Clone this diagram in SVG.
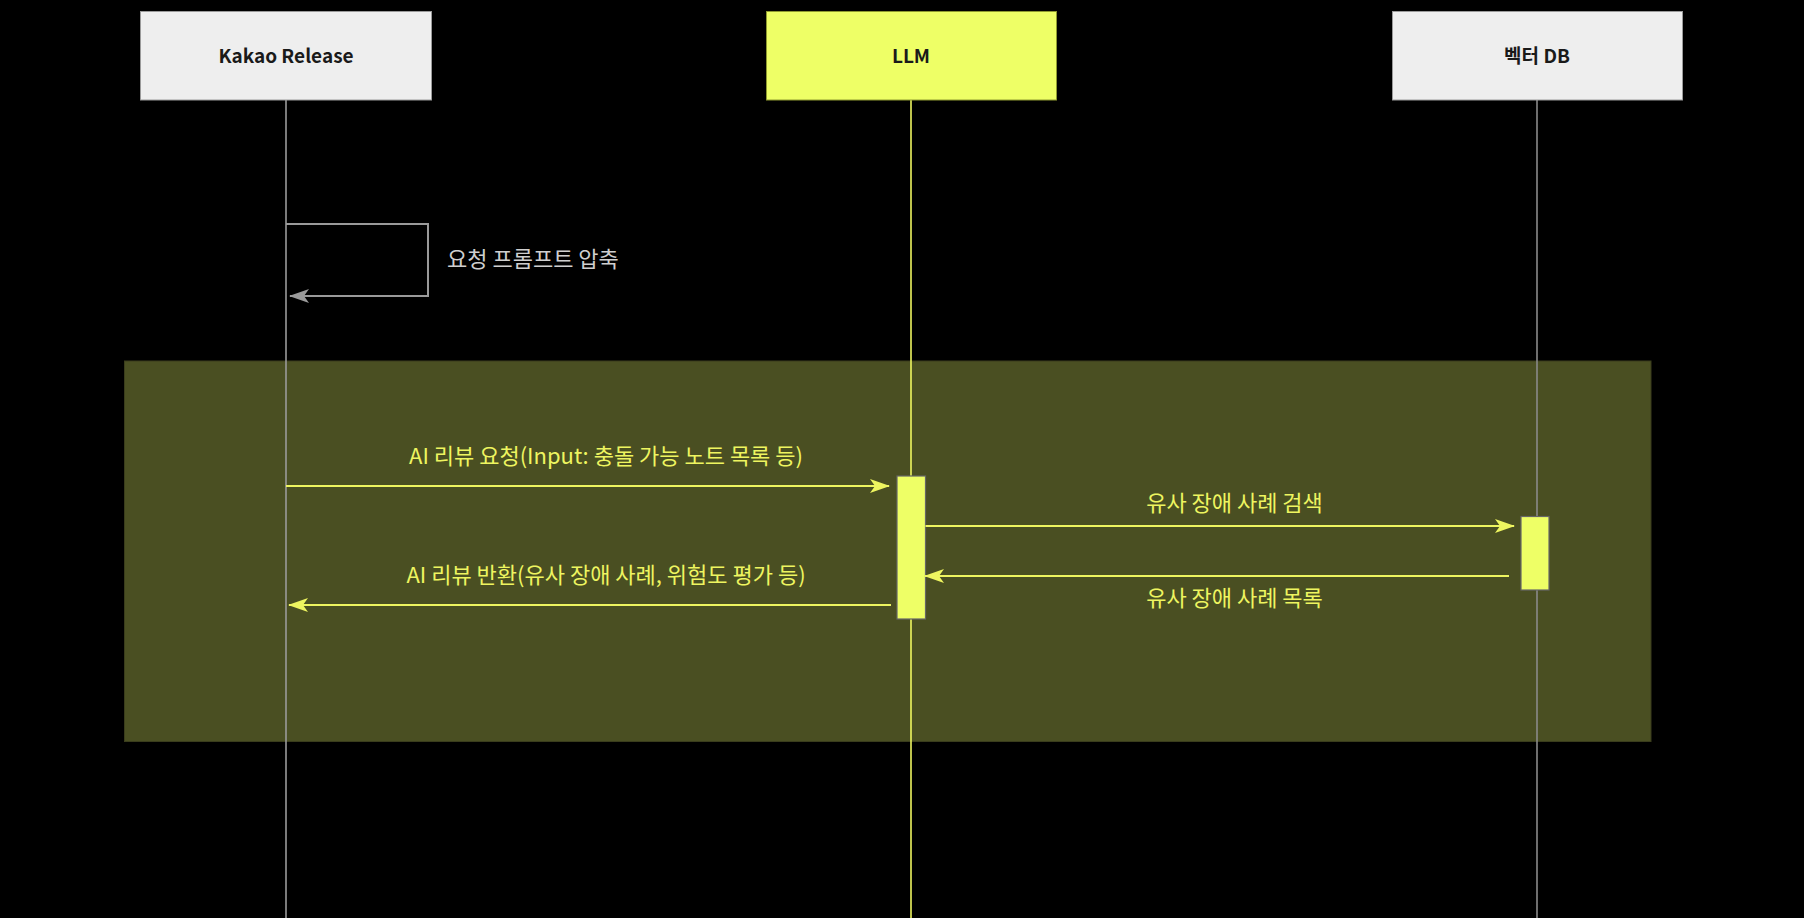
<svg xmlns="http://www.w3.org/2000/svg" width="1804" height="918" viewBox="0 0 1804 918">
<style>
text{font-family:"Noto Sans CJK KR","Noto Sans",sans-serif}
.hdr{font-size:19px;font-weight:700;fill:#1a1a1a;text-anchor:middle}
.lbl{font-size:22px;fill:#eef560;text-anchor:middle}
.self{font-size:22px;fill:#cfcfcf}
.msg{stroke:#eef560;stroke-width:2;fill:none}
.life{stroke-width:1.6;fill:none}
.act{fill:#eeff66;stroke:#666;stroke-width:1.2}
</style>
<defs>
<marker id="ay" viewBox="0 0 20 14" refX="19" refY="7" markerWidth="20" markerHeight="14" markerUnits="userSpaceOnUse" orient="auto">
<path d="M0,0 L20,7 L0,14 L5,7 z" fill="#eef560"/>
</marker>
<marker id="ag" viewBox="0 0 20 14" refX="19" refY="7" markerWidth="20" markerHeight="14" markerUnits="userSpaceOnUse" orient="auto">
<path d="M0,0 L20,7 L0,14 L5,7 z" fill="#9a9a9a"/>
</marker>
</defs>
<rect width="1804" height="918" fill="#000"/>
<rect id="group" x="124.5" y="361" width="1526.5" height="380.5" fill="#4a4f22" stroke="#3a3d1c" stroke-width="1"/>
<g id="lifelines">
<line class="life" x1="286" y1="100" x2="286" y2="918" stroke="#9a9a9a"/>
<line class="life" x1="911" y1="100" x2="911" y2="918" stroke="#eef560"/>
<line class="life" x1="1537" y1="100" x2="1537" y2="918" stroke="#8a8a8a"/>
</g>
<g id="kakao">
<rect x="140.5" y="11.5" width="291" height="88.5" fill="#eeeeee" stroke="#9a9a9a" stroke-width="1"/>
<text class="hdr" x="286" y="62.5">Kakao Release</text>
</g>
<g id="llm">
<rect x="766.5" y="11.5" width="290" height="88.5" fill="#eeff66" stroke="#8f9a30" stroke-width="1"/>
<text class="hdr" x="911" y="62.5">LLM</text>
</g>
<g id="vectordb">
<rect x="1392.5" y="11.5" width="290" height="88.5" fill="#eeeeee" stroke="#9a9a9a" stroke-width="1"/>
<text class="hdr" x="1537" y="62.5">벡터 DB</text>
</g>
<g id="act-llm"><rect class="act" x="897" y="476" width="28.5" height="143"/></g>
<g id="act-db"><rect class="act" x="1521" y="516.5" width="28" height="73.5"/></g>
<g id="connectors">
<path d="M286,224 H428 V296 H290" fill="none" stroke="#9a9a9a" stroke-width="2" marker-end="url(#ag)"/>
<line class="msg" x1="286" y1="486" x2="889" y2="486" marker-end="url(#ay)"/>
<line class="msg" x1="925.5" y1="526" x2="1514" y2="526" marker-end="url(#ay)"/>
<line class="msg" x1="1509" y1="576" x2="925" y2="576" marker-end="url(#ay)"/>
<line class="msg" x1="891" y1="605" x2="289" y2="605" marker-end="url(#ay)"/>
</g>
<g id="labels">
<text class="self" x="447" y="267">요청 프롬프트 압축</text>
<text class="lbl" x="606" y="464">AI 리뷰 요청(Input: 충돌 가능 노트 목록 등)</text>
<text class="lbl" x="1234.5" y="510.5">유사 장애 사례 검색</text>
<text class="lbl" x="1234.5" y="605.5">유사 장애 사례 목록</text>
<text class="lbl" x="606" y="582.5">AI 리뷰 반환(유사 장애 사례, 위험도 평가 등)</text>
</g>
</svg>
